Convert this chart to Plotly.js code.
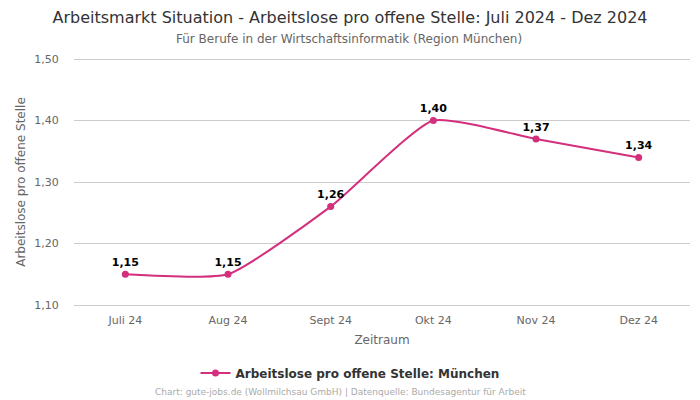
<!DOCTYPE html>
<html><head><meta charset="utf-8">
<script src="https://cdn.plot.ly/plotly-3.0.1.min.js"></script>
<style>body{margin:0;padding:0;}#chart{width:700px;height:400px;}</style>
</head><body><div id="chart"></div>
<script>
const categories = ["Juli 24", "Aug 24", "Sept 24", "Okt 24", "Nov 24", "Dez 24"];
const values = [1.15, 1.15, 1.26, 1.40, 1.37, 1.34];
const yTicks = [1.10, 1.20, 1.30, 1.40, 1.50];
const yTickLabels = ["1,10", "1,20", "1,30", "1,40", "1,50"];
const seriesName = "Arbeitslose pro offene Stelle: München";
const color = "#d32f7c";
const font = "DejaVu Sans, sans-serif";

const padPx = 4;
const W = 700, H = 400, mL = 74, mR = 10, mT = 59 - padPx, mB = 95 - padPx;
const pad = padPx * 0.4 / 246;
const plotW = W - mL - mR, plotH = H - mT - mB;
function pxToPaperX(px){ return (px - mL) / plotW; }
function pyToPaper(py){ return (H - mB - py) / plotH; }

const trace = {
  x: categories, y: values, type: "scatter", mode: "lines+markers+text",
  name: seriesName,
  line: {color: color, width: 2, shape: "spline", smoothing: 0.5},
  marker: {color: color, size: 7},
  text: values.map(v => v.toFixed(2).replace(".", ",")),
  textposition: "top center",
  textfont: {family: font, size: 11, color: "#000", weight: "bold"},
  cliponaxis: false,
  hoverinfo: "skip"
};
const layout = {
  width: W, height: H,
  margin: {l: mL, r: mR, t: mT, b: mB},
  paper_bgcolor: "#fff", plot_bgcolor: "#fff",
  font: {family: font, color: "#555"},
  title: {text: "Arbeitsmarkt Situation - Arbeitslose pro offene Stelle: Juli 2024 - Dez 2024",
    font: {family: font, size: 16, color: "#333"}, x: 0.5, xanchor: "center", y: 0.957, yanchor: "middle"},
  xaxis: {type: "category", range: [-0.5, 5.5], showgrid: false, zeroline: false, showline: false,
    ticks: "outside", ticklen: 5 - padPx, tickcolor: "rgba(0,0,0,0)", tickfont: {family: font, size: 11, color: "#666"},
    title: {text: "Zeitraum", font: {family: font, size: 12, color: "#666"}, standoff: 9}},
  yaxis: {range: [1.10 - pad, 1.50 + pad], tickvals: yTicks, ticktext: yTickLabels, showgrid: true, gridcolor: "#cccccc",
    zeroline: false, showline: false, ticks: "outside", ticklen: 12, tickcolor: "rgba(0,0,0,0)",
    tickfont: {family: font, size: 11, color: "#666"},
    title: {text: "Arbeitslose pro offene Stelle", font: {family: font, size: 12, color: "#666"}, standoff: 6}},
  showlegend: true,
  legend: {orientation: "h", x: pxToPaperX(350), xanchor: "center", y: pyToPaper(373), yanchor: "middle",
    font: {family: font, size: 12, color: "#333", weight: "bold"}},
  annotations: [
    {text: "Für Berufe in der Wirtschaftsinformatik (Region München)", xref: "paper", yref: "paper",
      x: pxToPaperX(349), xanchor: "center", y: pyToPaper(39), yanchor: "middle", showarrow: false,
      font: {family: font, size: 12, color: "#666"}},
    {text: "Chart: gute-jobs.de (Wollmilchsau GmbH) | Datenquelle: Bundesagentur für Arbeit", xref: "paper", yref: "paper",
      x: pxToPaperX(340), xanchor: "center", y: pyToPaper(392), yanchor: "middle", showarrow: false,
      font: {family: font, size: 9, color: "#aaa"}}
  ]
};
Plotly.newPlot("chart", [trace], layout, {displayModeBar: false, staticPlot: true});
</script></body></html>
